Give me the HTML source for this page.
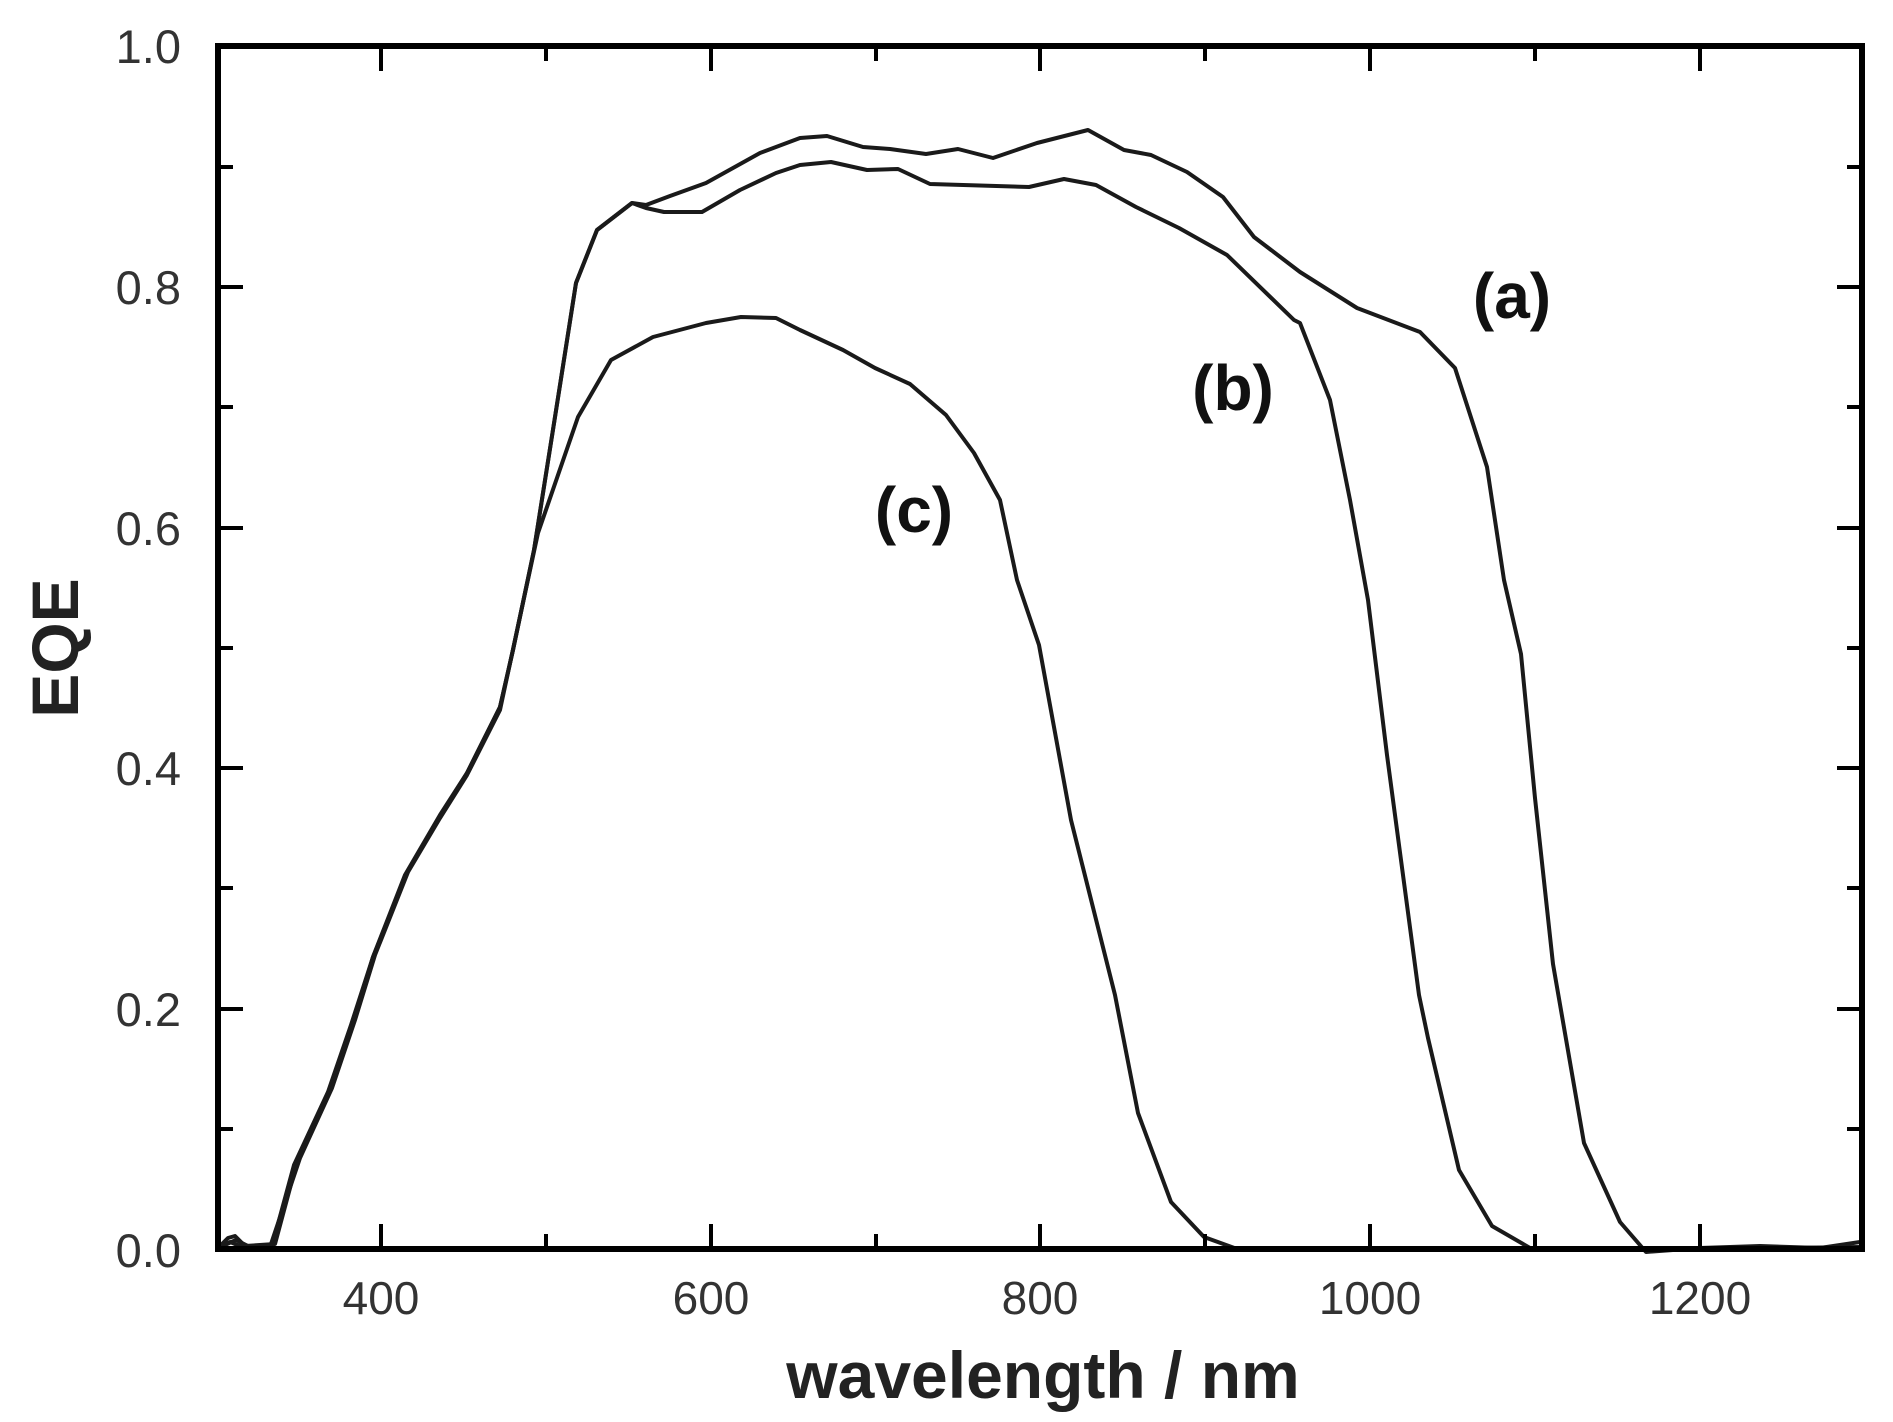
<!DOCTYPE html>
<html><head><meta charset="utf-8"><style>
html,body{margin:0;padding:0;background:#fff;}
svg{display:block;}
text{font-family:"Liberation Sans",Arial,sans-serif;}
</style></head><body>
<svg width="1893" height="1422" viewBox="0 0 1893 1422" xmlns="http://www.w3.org/2000/svg">
<rect width="1893" height="1422" fill="#fff"/>
<g fill="none" stroke="#1a1a1a" stroke-width="4" stroke-linejoin="round" stroke-linecap="round">
<polyline points="218,1248 228,1238 235,1236 245,1246 275,1244 297,1162 330,1090 353,1023 373,957 407,873 440,817 467,773 500,707 513,650 534,550 555,417 576,283 597,230 632,203 646,205 670,196 706,183 760,153 800,138 827,136 863,147 890,149 926,154 958,149 993,158 1037,143 1088,130 1124,150 1151,155 1187,172 1223,197 1254,237 1300,272 1357,308 1420,332 1455,368 1487,467 1504,580 1521,654 1535,798 1553,964 1584,1143 1620,1222 1646,1252 1700,1248 1760,1246 1820,1248 1860,1242"/>
<polyline points="218,1248 230,1242 240,1246 272,1246 294,1165 328,1092 351,1025 373,957 405,875 440,815 467,773 500,707 513,650 534,550 555,417 576,283 597,230 632,203 646,208 664,212 702,212 740,190 776,173 800,165 831,162 867,170 898,169 930,184 1029,187 1064,179 1096,185 1136,207 1179,228 1227,255 1294,320 1300,323 1330,400 1350,500 1368,600 1387,755 1419,995 1428,1038 1459,1170 1492,1226 1530,1248 1600,1250 1700,1249 1860,1247"/>
<polyline points="218,1248 236,1240 250,1247 270,1247 300,1158 332,1088 355,1020 375,955 408,872 440,818 467,775 500,710 515,640 538,533 578,417 611,360 653,337 706,323 741,317 776,318 800,330 843,350 875,368 910,384 946,415 974,453 1000,500 1017,580 1039,645 1071,820 1115,995 1138,1113 1171,1202 1204,1237 1240,1250 1300,1250 1400,1250"/>
</g>
<rect x="218" y="46" width="1644" height="1203" fill="none" stroke="#000" stroke-width="6"/>
<g stroke="#000" stroke-width="4">
<path d="M381,1249v-25M711,1249v-25M1040,1249v-25M1370,1249v-25M1700,1249v-25"/>
<path d="M381,46v25M711,46v25M1040,46v25M1370,46v25M1700,46v25"/>
<path d="M546,1249v-15M876,1249v-15M1205,1249v-15M1535,1249v-15"/>
<path d="M546,46v15M876,46v15M1205,46v15M1535,46v15"/>
<path d="M218,287h25M218,528h25M218,768h25M218,1009h25"/>
<path d="M1862,287h-25M1862,528h-25M1862,768h-25M1862,1009h-25"/>
<path d="M218,167h15M218,407h15M218,648h15M218,888h15M218,1129h15"/>
<path d="M1862,167h-15M1862,407h-15M1862,648h-15M1862,888h-15M1862,1129h-15"/>
</g>
<g fill="#333" font-size="47" text-anchor="end">
<text x="181" y="63">1.0</text>
<text x="181" y="304">0.8</text>
<text x="181" y="545">0.6</text>
<text x="181" y="785">0.4</text>
<text x="181" y="1026">0.2</text>
<text x="181" y="1267">0.0</text>
</g>
<g fill="#333" font-size="46" text-anchor="middle">
<text x="381" y="1314">400</text>
<text x="711" y="1314">600</text>
<text x="1040" y="1314">800</text>
<text x="1370" y="1314">1000</text>
<text x="1700" y="1314">1200</text>
</g>
<text x="1043" y="1398" font-size="66" font-weight="bold" text-anchor="middle" fill="#222">wavelength / nm</text>
<text transform="translate(78,648) rotate(-90)" font-size="66" font-weight="bold" text-anchor="middle" fill="#222">EQE</text>
<g font-size="64" font-weight="bold" text-anchor="middle" fill="#111">
<text x="1512" y="318">(a)</text>
<text x="1233" y="410">(b)</text>
<text x="914" y="532">(c)</text>
</g>
</svg>
</body></html>
